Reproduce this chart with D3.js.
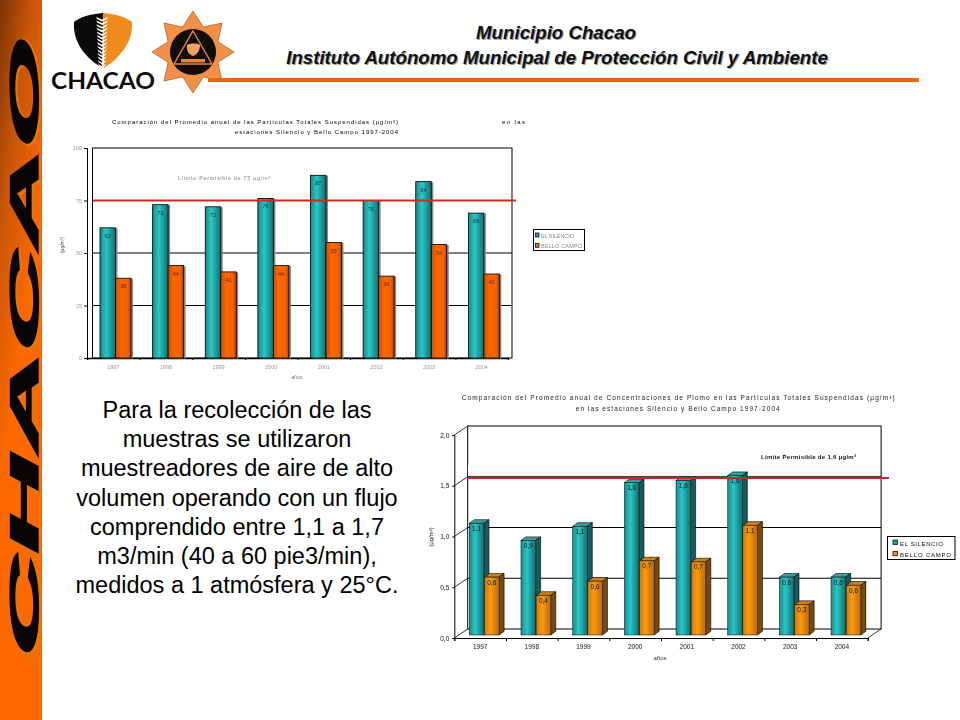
<!DOCTYPE html>
<html><head><meta charset="utf-8">
<script src="https://cdn.jsdelivr.net/npm/d3@7"></script>
<style>html,body{margin:0;padding:0;background:#fff}svg{display:block}text{font-family:"Liberation Sans",Arial,sans-serif}</style>
</head><body><div id="c"></div>
<script>
const years=["1997","1998","1999","2000","2001","2002","2003","2004"];
const seriesNames=["EL SILENCIO","BELLO CAMPO"];
const ptsSilencio=[62,73,72,76,87,75,84,69];
const ptsBello=[38,44,41,44,55,39,54,40];
const pbSilencio=[1.1,0.93,1.07,1.5,1.52,1.57,0.57,0.57];
const pbBello=[0.57,0.39,0.53,0.73,0.72,1.08,0.3,0.49];
const pbSilencioLabels=["1,1","0,9","1,1","1,6","1,6","1,6","0,6","0,6"];
const pbBelloLabels=["0,6","0,4","0,6","0,7","0,7","1,1","0,3","0,6"];
const ptsTicks=[0,25,50,75,100];
const pbTicks=[0,0.5,1,1.5,2];
const bodyLines=["Para la recolección de las","muestras se utilizaron","muestreadores de aire de alto","volumen operando con un flujo","comprendido entre 1,1 a 1,7","m3/min (40 a 60 pie3/min),","medidos a 1 atmósfera y 25°C."];

const svg=d3.select("#c").append("svg").attr("width",960).attr("height",720);
const defs=svg.append("defs");
function grad(id,stops,x2=1,y2=0){const g=defs.append("linearGradient").attr("id",id).attr("x1",0).attr("y1",0).attr("x2",x2).attr("y2",y2);
 stops.forEach(s=>g.append("stop").attr("offset",s[0]).attr("stop-color",s[1]));}
grad("strip",[[0,"#7a3306"],[0.45,"#c85508"],[1,"#ff6a00"]],0.25,0.6);
grad("teal",[[0,"#178a8a"],[0.4,"#2cc6c6"],[1,"#0f6f70"]]);
grad("org1",[[0,"#c94f00"],[0.35,"#ff6600"],[0.8,"#f56200"],[1,"#a84000"]]);
grad("org2",[[0,"#c87a08"],[0.4,"#fb9a0c"],[1,"#b86c06"]]);
defs.append("filter").attr("id","soft").append("feGaussianBlur").attr("stdDeviation",0.25);

// left strip
svg.append("rect").attr("width",42).attr("height",720).attr("fill","url(#strip)");
const strip=svg.append("g");
const stripMatrix="matrix(0,-1,1,0,38,662) skewX(-28)";
strip.append("text").attr("transform",stripMatrix).attr("x",-4).attr("y",1.5).attr("textLength",622).attr("lengthAdjust","spacingAndGlyphs")
 .attr("font-size",40).attr("font-weight","bold").attr("fill","#e8720f").attr("stroke","#e8720f").attr("stroke-width",2).text("CHACAO");
strip.append("text").attr("transform",stripMatrix).attr("textLength",618).attr("lengthAdjust","spacingAndGlyphs")
 .attr("font-size",40).attr("font-weight","bold").attr("fill","#0a0505").attr("stroke","#0a0505").attr("stroke-width",1.4).text("CHACAO");

// logos
const shield=svg.append("g");
shield.append("path").attr("d","M103,13 C90,14 80,17 74,22 C73,38 80,54 102,68 Z").attr("fill","#0c0a08");
shield.append("path").attr("d","M103,13 C116,14 126,17 132,22 C133,38 125,54 104,68 Z").attr("fill","#f08c1e");
d3.range(14).forEach(i=>{const y=17+i*3.6,w=6-i*0.15;shield.append("path").attr("d",`M${102-w},${y} L102,${y+2.5} L${102+w},${y} L${102+w-1},${y+2} L102,${y+4.5} L${102-w+1},${y+2} Z`).attr("fill","#fff");});
svg.append("text").attr("x",103).attr("y",89).attr("text-anchor","middle").attr("font-size",22.5).attr("font-weight","bold").attr("fill","#0d0d0d").attr("textLength",104).attr("lengthAdjust","spacingAndGlyphs").style("font-family","Lato,'Open Sans',sans-serif").text("CHACAO");
const star=svg.append("g").attr("transform","translate(193,52)");
const starPts=d3.range(16).map(i=>{const r=i%2?27:41,a=-Math.PI/2+i*Math.PI/8;return [r*Math.cos(a),r*Math.sin(a)];});
star.append("polygon").attr("points",starPts.map(p=>p.join(",")).join(" ")).attr("fill","#f2904a").attr("stroke","#a5561e").attr("stroke-width",0.7);
star.append("circle").attr("r",23).attr("fill","#100c0a");
star.append("path").attr("d","M0,-21 L19,12 L-19,12 Z").attr("fill","none").attr("stroke","#e8843c").attr("stroke-width",1.4);
star.append("path").attr("d","M-6,-7 C-4,-9 6,-9 7,-7 C7,0 3,3 0,4 C-3,3 -7,0 -6,-7 Z").attr("fill","#f0a060");
star.append("rect").attr("x",-12).attr("y",7).attr("width",24).attr("height",3.5).attr("fill","#e8843c");

// header
function shadowText(x,y,size,t){
 svg.append("text").attr("x",x+1).attr("y",y+1).attr("text-anchor","middle").attr("font-size",size).attr("font-weight","bold").attr("font-style","italic").attr("fill","#999").text(t);
 svg.append("text").attr("x",x).attr("y",y).attr("text-anchor","middle").attr("font-size",size).attr("font-weight","bold").attr("font-style","italic").attr("fill","#111").text(t);
}
shadowText(556,39,18.7,"Municipio Chacao");
shadowText(557,64,18.7,"Instituto Autónomo Municipal de Protección Civil y Ambiente");
svg.append("rect").attr("x",208).attr("y",78).attr("width",711).attr("height",4).attr("fill","#f0640f");

// body text
svg.append("g").selectAll("text").data(bodyLines).join("text").attr("x",237).attr("y",(d,i)=>418+i*29.2).attr("text-anchor","middle").attr("font-size",23.5).attr("fill","#000").text(d=>d);

function label(g,x,y,t,o={}){const n=g.append("text").attr("x",x).attr("y",y).attr("font-size",o.size||6).attr("fill",o.fill||"#222").attr("text-anchor",o.anchor||"start").text(t);
 if(o.len) n.attr("textLength",o.len).attr("lengthAdjust","spacing");if(o.weight)n.attr("font-weight",o.weight);return n;}
function plainAxis(sel){sel.select(".domain").attr("stroke","#000");sel.selectAll("line").attr("stroke","#000");}

// ---------- chart 1
{
 const g=svg.append("g").attr("filter","url(#soft)");
 const x=d3.scaleBand().domain(years).range([87,508]);
 const inner=d3.scaleBand().domain([0,1]).range([13,44]);
 const y=d3.scaleLinear().domain([0,100]).range([358,148]);
 g.append("rect").attr("x",92.5).attr("y",148).attr("width",419.5).attr("height",210).attr("fill","#fff").attr("stroke","#000").attr("stroke-width",1);
 g.append("rect").attr("x",93).attr("y",193).attr("width",418).attr("height",5).attr("fill","#f4f8f8");
 g.append("g").selectAll("line").data(ptsTicks.slice(1,4)).join("line").attr("x1",92).attr("x2",512).attr("y1",d=>y(d)).attr("y2",d=>y(d)).attr("stroke","#000");
 const ya=g.append("g").attr("transform","translate(87,0)").call(d3.axisLeft(y).tickValues(ptsTicks).tickSize(3));
 plainAxis(ya);ya.selectAll("text").attr("font-size",5.5).attr("fill","#999").attr("dx",1);
 const ticks=d3.scaleLinear().domain([0,8]).range([87,508]);
 const xt=g.append("g").attr("transform","translate(0,358)").call(d3.axisBottom(ticks).ticks(8).tickSize(2).tickFormat(""));
 plainAxis(xt);xt.select(".domain").attr("stroke-width",1.6);
 const xl=g.append("g").attr("transform","translate(0,358)").call(d3.axisBottom(x).tickSize(0).tickPadding(7));
 xl.select(".domain").remove();xl.selectAll("text").attr("font-size",5.5).attr("fill","#999");
 [[ptsSilencio,"url(#teal)"],[ptsBello,"url(#org1)"]].forEach(([vals,fill],s)=>{
  const bars=g.append("g").selectAll("g").data(vals).join("g");
  bars.append("rect").attr("x",(d,i)=>x(years[i])+inner(s)+2).attr("y",d=>y(d)+0.5).attr("width",inner.bandwidth()).attr("height",d=>358-y(d)).attr("fill","#888");
  bars.append("rect").attr("x",(d,i)=>x(years[i])+inner(s)).attr("y",d=>y(d)).attr("width",inner.bandwidth()).attr("height",d=>358-y(d)).attr("fill",fill).attr("stroke","#000").attr("stroke-width",0.8);
  bars.append("text").attr("x",(d,i)=>x(years[i])+inner(s)+inner.bandwidth()/2).attr("y",d=>y(d)+10).attr("text-anchor","middle").attr("font-size",5.5).attr("fill",s?"#6a2a00":"#0b3a44").text(d=>d);
 });
 g.append("line").attr("x1",93).attr("x2",516).attr("y1",y(75)).attr("y2",y(75)).attr("stroke","#cf2a20").attr("stroke-width",2);
 label(g,112,124,"Comparación del Promedio anual de las Partículas Totales Suspendidas (µg/m³)",{len:286,size:6,fill:"#000"});
 label(g,502,124,"en las",{len:23,size:6,fill:"#000"});
 label(g,235,134,"estaciones Silencio y Bello Campo   1997-2004",{len:163,size:6,fill:"#000"});
 label(g,178,180,"Límite Permisible de 75 µg/m³",{len:92,size:5.5,fill:"#888"});
 label(g,297,379,"años",{size:5,anchor:"middle",fill:"#777"});
 g.append("text").attr("transform","translate(64,245) rotate(-90)").attr("text-anchor","middle").attr("font-size",5).attr("fill","#555").text("(µg/m³)");
 g.append("rect").attr("x",533.5).attr("y",229.5).attr("width",51).attr("height",21).attr("fill","#fff").attr("stroke","#000");
 seriesNames.forEach((n,i)=>{
  g.append("rect").attr("x",535.5).attr("y",233+i*10.3).attr("width",3.5).attr("height",4).attr("fill",i?"#f26a10":"#1d9a9a").attr("stroke","#000").attr("stroke-width",0.7);
  label(g,541,237.5+i*10.3,n,{size:5.5,fill:"#888",len:i?41:33});
 });
}

// ---------- chart 2
{
 const g=svg.append("g").attr("filter","url(#soft)");
 const dx=13.4,dy=-9;
 const x=d3.scaleBand().domain(years).range([454.3,867.7]);
 const inner=d3.scaleBand().domain([0,1]).range([15,45.3]);
 const y=d3.scaleLinear().domain([0,2]).range([638,435]);
 const base=635,h=v=>638-y(v);
 g.append("rect").attr("x",454.3+dx).attr("y",435+dy).attr("width",867.7-454.3).attr("height",203).attr("fill","#fff").attr("stroke","#000");
 g.append("rect").attr("x",468).attr("y",465).attr("width",412).attr("height",11).attr("fill","#fafcfc");
 g.append("g").selectAll("line").data(pbTicks.slice(1,4)).join("line").attr("x1",454.3+dx).attr("x2",867.7+dx).attr("y1",d=>y(d)+dy).attr("y2",d=>y(d)+dy).attr("stroke","#000");
 g.append("g").selectAll("line").data(pbTicks).join("line").attr("x1",454.3).attr("x2",454.3+dx).attr("y1",d=>y(d)).attr("y2",d=>y(d)+dy).attr("stroke","#000").attr("stroke-width",0.8);
 g.append("line").attr("x1",867.7).attr("x2",867.7+dx).attr("y1",638).attr("y2",638+dy).attr("stroke","#000").attr("stroke-width",0.8);
 const ya=g.append("g").attr("transform","translate(454.3,0)").call(d3.axisLeft(y).tickValues(pbTicks).tickSize(2).tickFormat(d=>d3.format(".1f")(d).replace(".",",")));
 plainAxis(ya);ya.selectAll("text").attr("font-size",6.5).attr("fill","#111");
 const ticks=d3.scaleLinear().domain([0,8]).range([454.3,867.7]);
 const xt=g.append("g").attr("transform","translate(0,638)").call(d3.axisBottom(ticks).ticks(8).tickSize(3).tickFormat(""));
 plainAxis(xt);
 const xl=g.append("g").attr("transform","translate(0,638)").call(d3.axisBottom(x).tickSize(0).tickPadding(6));
 xl.select(".domain").remove();xl.selectAll("text").attr("font-size",6.5).attr("fill","#111");
 const bd=5,bh=3.7;
 [[pbSilencio,pbSilencioLabels,"url(#teal)","#3f9c9c","#125c5e"],[pbBello,pbBelloLabels,"url(#org2)","#c98318","#7a4a08"]].forEach(([vals,labs,fill,top,side],s)=>{
  const bars=g.append("g").selectAll("g").data(vals).join("g");
  const bx=i=>x(years[i])+inner(s),w=inner.bandwidth()-0.5;
  bars.append("path").attr("d",(d,i)=>`M${bx(i)},${base-h(d)} l${bd},${-bh} h${w} l${-bd},${bh} Z`).attr("fill",top).attr("stroke","#000").attr("stroke-width",0.6);
  bars.append("path").attr("d",(d,i)=>`M${bx(i)+w},${base-h(d)} l${bd},${-bh} V${base-bh} l${-bd},${bh} Z`).attr("fill",side).attr("stroke","#000").attr("stroke-width",0.6);
  bars.append("rect").attr("x",(d,i)=>bx(i)).attr("y",d=>base-h(d)).attr("width",w).attr("height",d=>h(d)).attr("fill",fill).attr("stroke","#111").attr("stroke-width",0.5);
  bars.append("text").attr("x",(d,i)=>bx(i)+w/2).attr("y",d=>base-h(d)+7.5).attr("text-anchor","middle").attr("font-size",6.5).attr("fill","#111").text((d,i)=>labs[i]);
 });
 g.append("line").attr("x1",467).attr("x2",889).attr("y1",478).attr("y2",478).attr("stroke","#c8282a").attr("stroke-width",2);
 label(g,461.7,400,"Comparación del Promedio anual de  Concentraciones de Plomo en las Partículas Totales Suspendidas (µg/m³)",{len:433,size:6.5,fill:"#222"});
 label(g,575.7,411,"en las estaciones Silencio y Bello Campo  1997-2004",{len:204,size:6.5,fill:"#222"});
 label(g,761,459,"Límite Permisible de  1,6 µg/m³",{len:95,size:6,fill:"#111",weight:"bold"});
 label(g,660,660,"años",{size:6,anchor:"middle",fill:"#333"});
 g.append("text").attr("transform","translate(433,537) rotate(-90)").attr("text-anchor","middle").attr("font-size",6).attr("fill","#222").text("(µg/m³)");
 g.append("rect").attr("x",887.5).attr("y",536.5).attr("width",67.5).attr("height",23).attr("fill","#fff").attr("stroke","#000");
 seriesNames.forEach((n,i)=>{
  g.append("rect").attr("x",893).attr("y",540+i*11.3).attr("width",4.5).attr("height",4.5).attr("fill",i?"#e8920e":"#1d9a9a").attr("stroke","#000").attr("stroke-width",0.7);
  label(g,900,545.5+i*11.3,n,{size:6,fill:"#111",len:i?51:43});
 });
}
</script></body></html>
